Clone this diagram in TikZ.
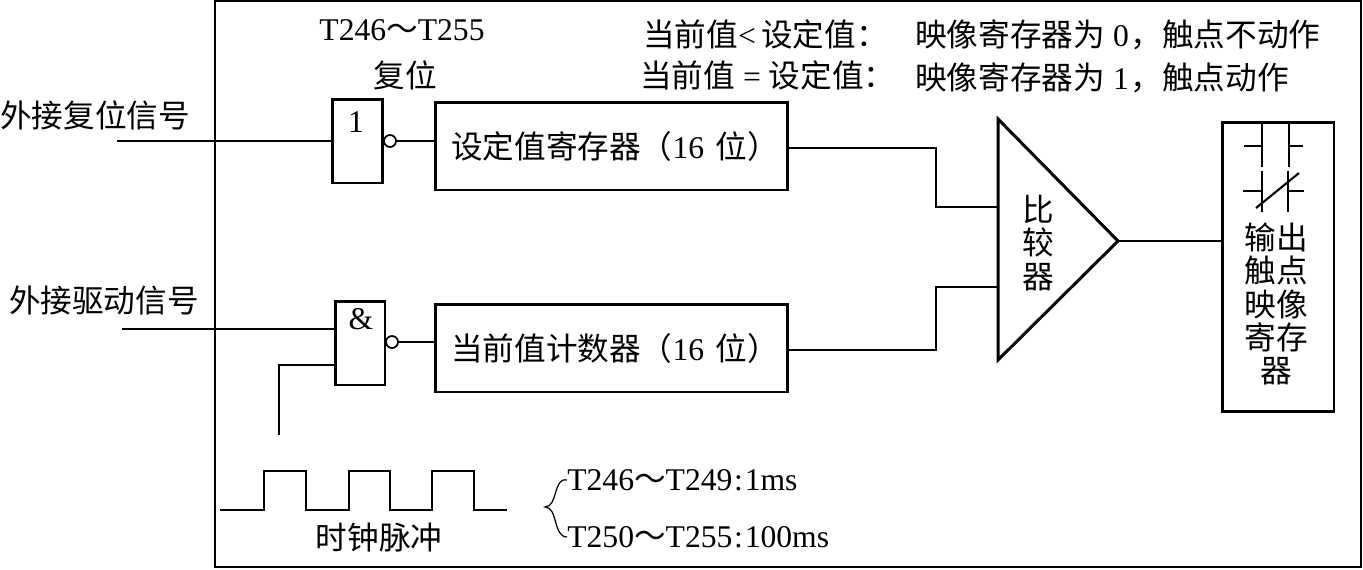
\documentclass[tikz,border=0pt]{standalone}
\usepackage{fontspec}
\setmainfont{Liberation Serif}
\newfontfamily\cjk{Noto Sans CJK SC}
\newcommand{\zh}[1]{{\cjk #1}}

\begin{document}
\begin{tikzpicture}[x=0.02cm,y=-0.02cm,
    box/.style={draw,line width=1.7pt,inner sep=0pt,outer sep=0pt,minimum width=7.06cm,minimum height=1.76cm,font=\fontsize{18}{22}\selectfont},
    gate/.style={draw,line width=1.7pt,inner sep=0pt,outer sep=0pt,minimum width=1cm,minimum height=1.68cm},
    bubble/.style={draw,circle,line width=1pt,inner sep=0pt,outer sep=0pt,minimum size=0.24cm},
    lbl/.style={inner sep=0pt,font=\fontsize{18}{19}\selectfont},
    wire/.style={line width=1pt}]
  \useasboundingbox (0,0) rectangle (1363,569);
  \draw[line width=1.2pt] (215,1) rectangle (1361,567);

  \node[lbl] (topname) at (402,30) {T246\zh{～}T255};
  \node[lbl] (resetname) at (405,75) {\zh{复位}};
  \node[lbl,anchor=west] (lessA) at (643,34) {\zh{当前值}<\kern3pt\zh{设定值：}};
  \node[lbl,anchor=west] (equalA) at (640,75) {\zh{当前值} = \zh{设定值：}};
  \node[lbl,anchor=west] (lessB) at (915,35) {\zh{映像寄存器为} 0\kern1pt\zh{，触点不动作}};
  \node[lbl,anchor=west] (equalB) at (915,78) {\zh{映像寄存器为} 1\kern1pt\zh{，触点动作}};
  \node[lbl] (extreset) at (95,115) {\zh{外接复位信号}};
  \node[lbl] (extdrive) at (104,301) {\zh{外接驱动信号}};

  \node[gate] (notgate) at (357.5,141) {};
  \node[lbl] (notsign) at (356,122) {1};
  \node[gate] (andgate) at (360,343) {};
  \node[lbl] (andsign) at (361,319) {\&};
  \node[bubble] (notbub) at (390,141) {};
  \node[bubble] (andbub) at (392,342) {};
  \node[box] (reg) at (611.5,146) {\kern4pt\zh{设定值寄存器（}16\kern2pt\ \zh{位）}};
  \node[box] (cnt) at (611.5,348) {\kern4pt\zh{当前值计数器（}16\kern2pt\ \zh{位）}};

  \coordinate (resetin) at (117,141);
  \coordinate (drivein) at (122,329);
  \coordinate (andA) at (335,329);
  \coordinate (andB) at (335,365);
  \coordinate (clkin) at (279,435);
  \coordinate (cmpA) at (998,207);
  \coordinate (cmpB) at (998,287);
  \coordinate (cmpT) at (998,119);
  \coordinate (cmpL) at (998,360);
  \coordinate (cmpout) at (1118,241);
  \coordinate (kneeA) at (936,207);
  \coordinate (kneeB) at (936,287);

  \draw[line width=1.7pt,line join=miter] (cmpT) -- (cmpout) -- (cmpL) -- cycle;
  \node[lbl,align=center] (cmpname) at (1038,243) {\zh{比}\\\zh{较}\\\zh{器}};

  \node[draw,line width=1.7pt,inner sep=0pt,outer sep=0pt,minimum width=2.24cm,minimum height=5.8cm] (output) at (1278,267) {};
  \node[lbl,align=center] (outname) at (1276,304) {\zh{输出}\\\zh{触点}\\\zh{映像}\\\zh{寄存}\\\zh{器}};

  \draw[wire] (resetin) -- (notgate.west);
  \draw[wire] (notbub) -- (reg.west |- notbub);
  \draw[wire] (drivein) -- (andA);
  \draw[wire] (andbub) -- (cnt.west |- andbub);
  \draw[wire] (clkin) |- (andB);
  \draw[wire] ([yshift=-.04cm]reg.east) -| (kneeA) -- (cmpA);
  \draw[wire] ([yshift=-.04cm]cnt.east) -| (kneeB) -- (cmpB);
  \draw[wire] (cmpout) -- (output.west |- cmpout);

  % contacts
  \draw[wire,line width=1.2pt] (1262,124) -- (1262,167) (1289,124) -- (1289,167) (1244,146) -- (1262,146) (1289,146) -- (1303,146);
  \draw[wire,line width=1.2pt] (1262,171) -- (1262,212) (1288,171) -- (1288,212) (1243,191) -- (1262,191) (1288,191) -- (1304,191);
  \draw[wire,line width=1.2pt] (1256,208) -- (1299,173);

  % clock
  \draw[line width=1.5pt] (220,510) -- (264,510) -- (264,471) -- (306,471) -- (306,510) -- (349,510) -- (349,471) -- (390,471) -- (390,510) -- (432,510) -- (432,471) -- (474,471) -- (474,510) -- (507,510);
  \node[lbl] (clkname) at (379,538) {\zh{时钟脉冲}};
  \node[lbl,anchor=west] (slowtxt) at (567,480) {T246\zh{～}T249\kern1pt:\kern1pt 1ms};
  \node[lbl,anchor=west] (fasttxt) at (567,537) {T250\zh{～}T255\kern1pt:\kern1pt 100ms};
  \draw[line width=.7pt] (slowtxt.west) .. controls (553,477) and (558,507) .. (545,507) .. controls (558,507) and (553,537) .. (fasttxt.west);
\end{tikzpicture}
\end{document}
